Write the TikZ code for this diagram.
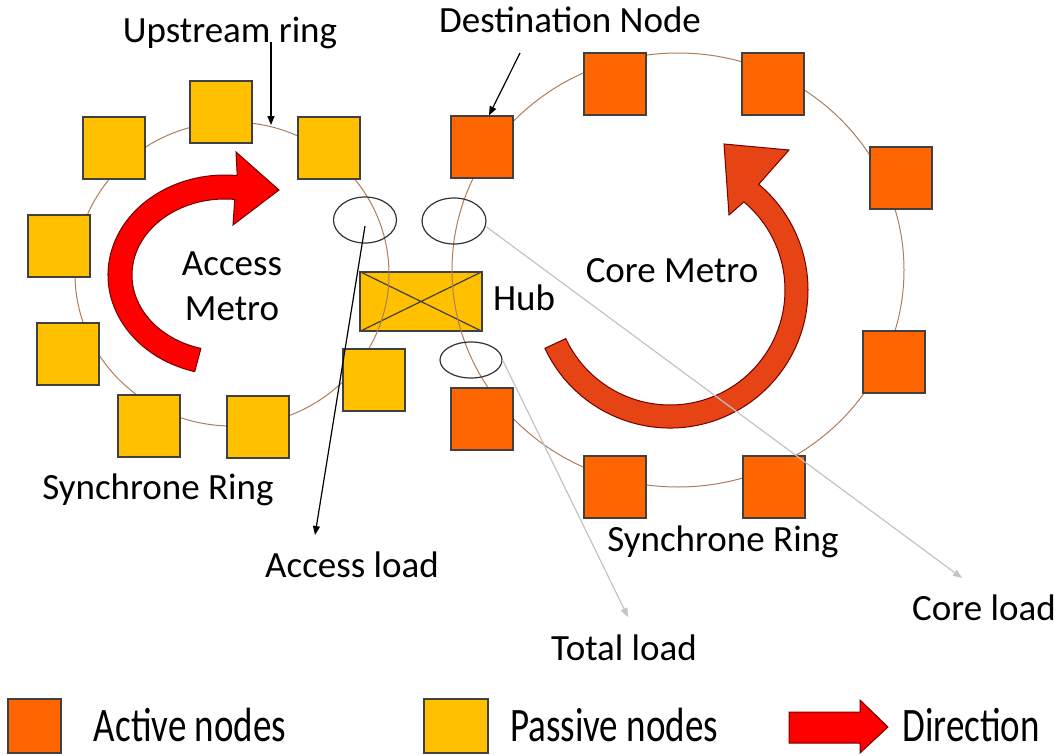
\documentclass[tikz,border=0pt]{standalone}
\usepackage{fontspec}
\setmainfont{Carlito}
\usetikzlibrary{arrows.meta,shapes.geometric,calc}
\definecolor{active}{RGB}{255,102,0}
\definecolor{passive}{RGB}{255,192,0}
\definecolor{ringcol}{RGB}{175,125,90}
\definecolor{corered}{RGB}{230,68,20}
\definecolor{loadgray}{RGB}{195,195,195}
\tikzset{
  sq/.style={draw=black!75, line width=1.2pt, minimum size=62pt, inner sep=0pt},
  act/.style={sq, fill=active},
  pas/.style={sq, fill=passive},
  lbl/.style={font=\fontsize{37}{44}\selectfont, anchor=base, inner sep=0pt},
  ringline/.style={draw=ringcol, line width=1pt},
  loadring/.style={draw=black!80, line width=1.2pt, ellipse, inner sep=0pt},
  blk/.style={-{Triangle[length=9pt,width=7pt]}, line width=1.2pt},
  gry/.style={blk, draw=loadgray},
  bigarrow/.style={line width=1pt, draw=red!45!black},
}
\begin{document}
\begin{tikzpicture}[x=1pt,y=1pt]
\useasboundingbox (0,0) rectangle (1060,-755);
% hub between the two rings
\node[draw=black!75, line width=1.2pt, fill=passive, minimum width=122pt, minimum height=59pt, inner sep=0pt] (hub) at (421,-301.5) {};
\draw[line width=1.2pt, black!75] (hub.north west) -- (hub.south east) (hub.south west) -- (hub.north east);
% rings
\draw[ringline] (232,-274) ellipse [x radius=157, y radius=152];
\draw[ringline] (678,-270) ellipse [x radius=226, y radius=217];
% access metro: passive nodes
\node[pas] (p1) at (221,-112) {};
\node[pas] (p2) at (114,-148) {};
\node[pas] (p3) at (59,-246) {};
\node[pas] (p4) at (68,-354) {};
\node[pas] (p5) at (149,-426) {};
\node[pas] (p6) at (258,-427) {};
\node[pas] (p7) at (329,-148) {};
\node[pas] (p8) at (374,-380) {};
% core metro: active nodes
\node[act] (a1) at (482,-147) {};
\node[act] (a2) at (615,-84) {};
\node[act] (a3) at (773,-84) {};
\node[act] (a4) at (901,-178) {};
\node[act] (a5) at (894,-362) {};
\node[act] (a6) at (774,-487) {};
\node[act] (a7) at (615,-487) {};
\node[act] (a8) at (482,-419) {};
% direction arrows
\coordinate (acc) at (225,-275);
\filldraw[bigarrow, fill=red] ($(acc)+(255:117 and 100)$) arc[start angle=255, end angle=84, x radius=117, y radius=100]
  -- (236,-152) -- (279,-190) -- (233,-225) -- ($(acc)+(84:93 and 76)$)
  arc[start angle=84, end angle=255, x radius=93, y radius=76] -- cycle;
\coordinate (cor) at (670,-290);
\filldraw[bigarrow, fill=corered] ($(cor)+(205:138)$) arc[start angle=205, end angle=410, radius=138]
  -- (789,-150) -- (724,-144) -- (729,-215) -- ($(cor)+(50:115)$)
  arc[start angle=410, end angle=205, radius=115] -- cycle;
% labels
\node[lbl] (upl) at (230,-42) {Upstream ring};
\node[lbl] (dstl) at (570,-32) {Destination Node};
\node[lbl] (accl) at (232,-275) {Access};
\node[lbl] (metl) at (232,-320) {Metro};
\node[lbl] (corel) at (672,-282) {Core Metro};
\node[lbl] (hubl) at (524,-310) {Hub};
\node[lbl] (syncl) at (158,-499) {Synchrone Ring};
\node[lbl] (syncr) at (723,-551) {Synchrone Ring};
\node[lbl] (accload) at (352,-577) {Access load};
\node[lbl] (totload) at (624,-660) {Total load};
\node[lbl] (coreload) at (984,-620) {Core load};
% load points
\node[loadring, minimum width=63pt, minimum height=46pt] (ldA) at (365,-220) {};
\node[loadring, minimum width=64pt, minimum height=46pt] (ldB) at (454,-221) {};
\node[loadring, minimum width=62pt, minimum height=36pt] (ldC) at (471,-360) {};
% pointers
\coordinate (upend) at (271,-125);
\draw[blk] (upl.base -| upend) -- (upend);
\draw[blk] ([xshift=-50pt,yshift=-21pt]dstl.base) -- ([xshift=7pt]a1.north);
\draw[blk] ([yshift=-6pt]ldA.center) -- ([xshift=-37pt,yshift=42pt]accload.base);
\draw[gry] ([yshift=-6pt]ldB.east) -- ([xshift=-22pt,yshift=42pt]coreload.base);
\draw[gry] (ldC.east) -- ([xshift=4pt,yshift=43pt]totload.base);
% legend
\node[act, minimum width=53pt, minimum height=54pt] (lgact) at (34.5,-726) {};
\node[lbl] (lgactl) at (190,-741) {\scalebox{1}[1.3]{Active nodes}};
\node[pas, minimum width=64pt, minimum height=54pt] (lgpas) at (456,-726) {};
\node[lbl] (lgpasl) at (614,-741) {\scalebox{1}[1.3]{Passive nodes}};
\filldraw[bigarrow, fill=red] (789,-712) -- (860,-712) -- (860,-700) -- (888,-727)
  -- (860,-753) -- (860,-743) -- (789,-743) -- cycle;
\node[lbl] (lgdirl) at (971,-741) {\scalebox{1}[1.3]{Direction}};
\end{tikzpicture}
\end{document}
